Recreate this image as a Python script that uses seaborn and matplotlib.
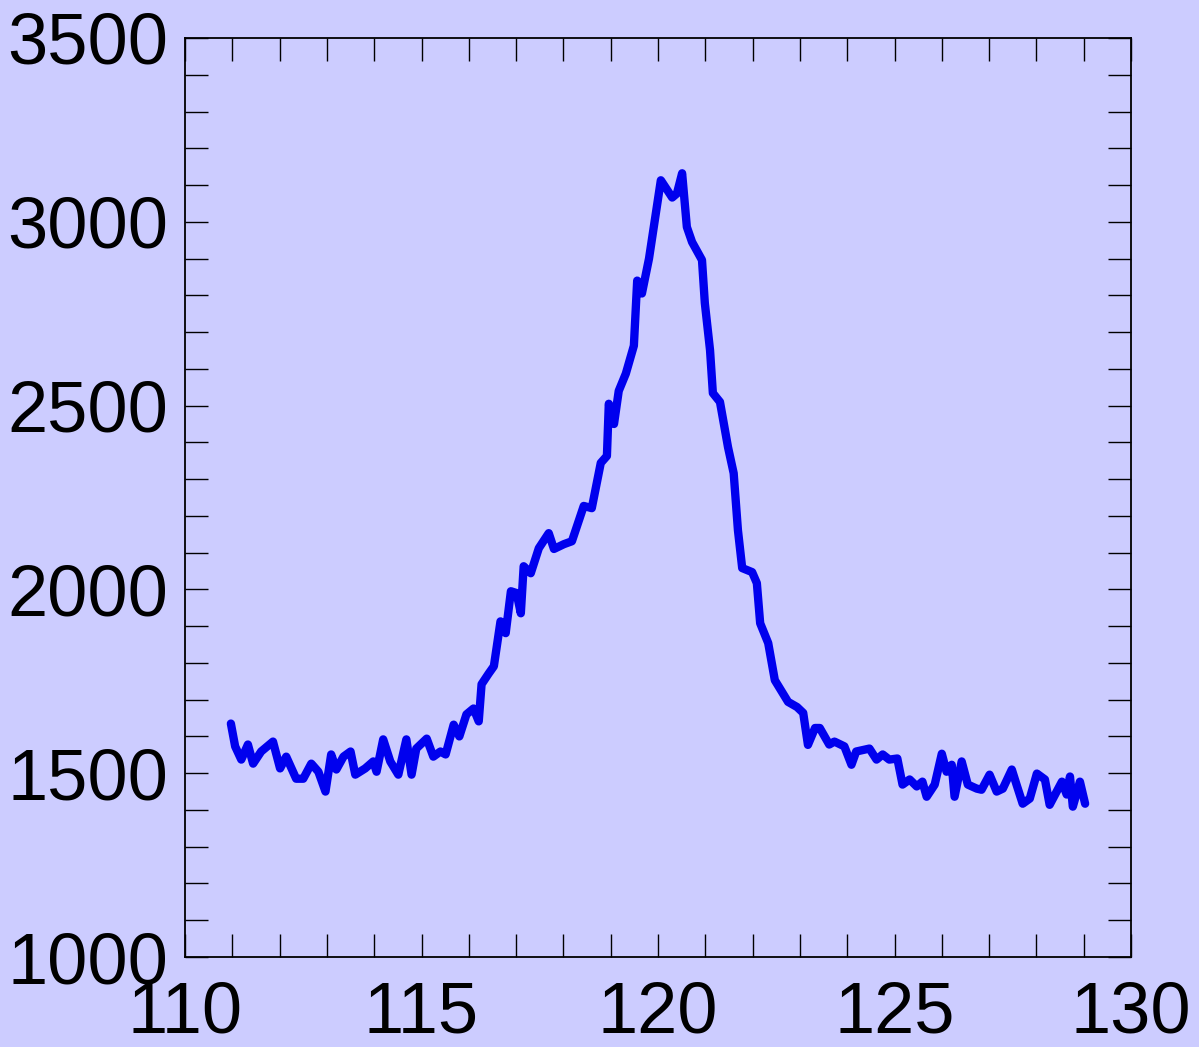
import numpy as np
import pandas as pd
import matplotlib
matplotlib.use("Agg")
import matplotlib.pyplot as plt
from matplotlib.ticker import MultipleLocator
import seaborn as sns

# ---- data ----
angle = [
    110.97, 111.06, 111.19, 111.33, 111.44, 111.61, 111.86, 112.01, 112.14, 112.35,
    112.50, 112.67, 112.82, 112.97, 113.09, 113.20, 113.35, 113.50, 113.60, 113.81,
    113.98, 114.05, 114.19, 114.34, 114.51, 114.68, 114.79, 114.89, 115.11, 115.25,
    115.40, 115.51, 115.68, 115.80, 115.95, 116.10, 116.21, 116.27, 116.42, 116.53,
    116.67, 116.78, 116.89, 117.01, 117.10, 117.16, 117.31, 117.48, 117.69, 117.80,
    118.01, 118.18, 118.43, 118.60, 118.79, 118.92, 118.96, 119.07, 119.17, 119.32,
    119.49, 119.56, 119.66, 119.81, 120.06, 120.30, 120.40, 120.51, 120.61, 120.72,
    120.93, 120.99, 121.10, 121.16, 121.31, 121.48, 121.60, 121.69, 121.78, 121.99,
    122.09, 122.16, 122.33, 122.47, 122.75, 122.94, 123.07, 123.17, 123.32, 123.42,
    123.62, 123.73, 123.94, 124.09, 124.19, 124.47, 124.62, 124.75, 124.89, 125.06,
    125.17, 125.32, 125.47, 125.59, 125.68, 125.85, 126.00, 126.10, 126.21, 126.27,
    126.42, 126.55, 126.74, 126.84, 127.01, 127.16, 127.29, 127.48, 127.58, 127.71,
    127.86, 128.01, 128.18, 128.28, 128.43, 128.54, 128.64, 128.71, 128.77, 128.92,
    129.03,
]
counts = [
    1635, 1573, 1537, 1578, 1526, 1559, 1586, 1513, 1545, 1485,
    1485, 1526, 1504, 1450, 1551, 1510, 1545, 1559, 1496, 1513,
    1532, 1504, 1592, 1532, 1496, 1592, 1496, 1567, 1594, 1545,
    1559, 1551, 1632, 1600, 1660, 1676, 1641, 1742, 1771, 1791,
    1913, 1881, 1995, 1990, 1935, 2063, 2044, 2112, 2153, 2110,
    2123, 2131, 2227, 2221, 2344, 2363, 2505, 2450, 2540, 2587,
    2663, 2840, 2805, 2900, 3113, 3066, 3077, 3132, 2986, 2945,
    2896, 2779, 2651, 2534, 2510, 2387, 2316, 2161, 2058, 2047,
    2017, 1908, 1854, 1753, 1694, 1680, 1664, 1577, 1623, 1623,
    1578, 1586, 1573, 1523, 1559, 1567, 1537, 1551, 1537, 1540,
    1469, 1483, 1464, 1477, 1436, 1469, 1553, 1504, 1523, 1436,
    1532, 1469, 1458, 1455, 1496, 1450, 1458, 1510, 1469, 1417,
    1431, 1499, 1483, 1414, 1450, 1477, 1442, 1491, 1409, 1477,
    1417,
]
x_ticks = [110, 115, 120, 125, 130]
y_ticks = [1000, 1500, 2000, 2500, 3000, 3500]

df = pd.DataFrame({"angle": angle, "counts": counts})

bg = "#CCCCFF"
sns.set_theme(style="ticks")
plt.rcParams["font.family"] = ["Liberation Sans", "DejaVu Sans"]

fig = plt.figure(figsize=(11.99, 10.47), dpi=100, facecolor=bg)
ax = fig.add_axes([185 / 1199, 1 - 957 / 1047, (1131 - 185) / 1199, (957 - 38) / 1047])
ax.set_facecolor(bg)

sns.lineplot(data=df, x="angle", y="counts", ax=ax, color="#0000EE",
             linewidth=6, sort=False, estimator=None)
for ln in ax.lines:
    ln.set_solid_joinstyle("round")
    ln.set_solid_capstyle("round")

ax.set_xlim(110, 130)
ax.set_ylim(1000, 3500)
ax.set_xticks(x_ticks)
ax.set_yticks(y_ticks)
ax.xaxis.set_minor_locator(MultipleLocator(1))
ax.yaxis.set_minor_locator(MultipleLocator(100))
ax.set_xlabel("")
ax.set_ylabel("")

for which in ("major", "minor"):
    ax.tick_params(axis="both", which=which, direction="in", length=16.5, width=1.0,
                   color="black", top=True, right=True)
ax.tick_params(axis="x", which="major", labelsize=52, pad=17, labelcolor="black")
ax.tick_params(axis="y", which="major", labelsize=52, pad=12, labelcolor="black")

for s in ax.spines.values():
    s.set_visible(True)
    s.set_color("black")
    s.set_linewidth(1.3)

fig.savefig("out.png", dpi=100, facecolor=bg)
